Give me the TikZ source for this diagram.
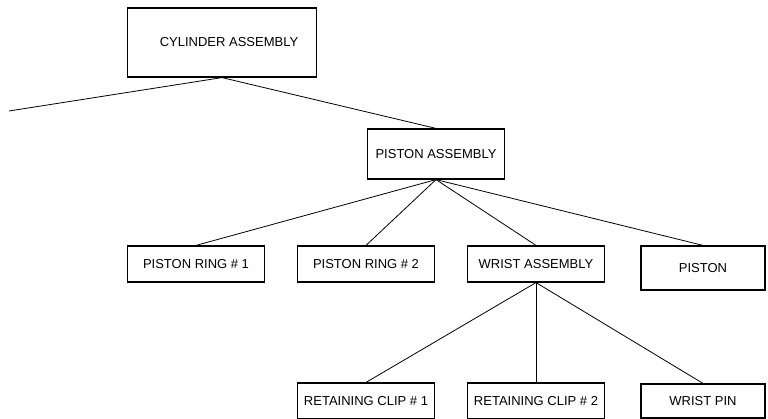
\documentclass[tikz,border=0pt]{standalone}
\usepackage{fontspec}
\setmainfont{Liberation Sans}
\usetikzlibrary{positioning}
\tikzset{
x=1pt, y=-1pt, % one unit per pixel, y runs down the page
node distance=170pt, % spacing between parts of the same row
part/.style={draw, line width=1.2pt, rectangle, minimum width=137pt, minimum height=36pt, inner sep=0pt, font=\fontsize{13}{15}\selectfont}, % sets the look of every box
link/.style={line width=0.8pt}, % lines from a part to its sub-parts
}

\begin{document}
\begin{tikzpicture}
    \useasboundingbox (0,0) rectangle (768,419);

    \node[part, minimum width=189pt, minimum height=69pt] (cyl) at (222,42.5) {\hspace*{14pt}CYLINDER ASSEMBLY};
    \coordinate (rest) at (9,111);
    \node[part, minimum height=50pt] (pa) at (436,154) {PISTON ASSEMBLY};

    \node[part] (pr1) at (196,264) {PISTON RING \# 1};
    \node[part, right of=pr1] (pr2) {PISTON RING \# 2};
    \node[part, right of=pr2] (wa) {WRIST ASSEMBLY};
    \node[part, right of=wa, xshift=-3pt, yshift=-4pt, minimum width=124pt, minimum height=44pt] (pis) {PISTON};

    \node[part, below of=pr2, node distance=137pt] (rc1) {RETAINING CLIP \# 1};
    \node[part, below of=wa, node distance=137pt] (rc2) {RETAINING CLIP \# 2};
    \node[part, below of=pis, node distance=133pt, minimum width=124pt, minimum height=34pt] (wp) {WRIST PIN};

    \draw[link] (rest) -- (cyl.south) -- (pa.north);
    \foreach \sub in {pr1, pr2, wa, pis}
        \draw[link] (pa.south) -- (\sub.north);
    \foreach \sub in {rc1, rc2, wp}
        \draw[link] (wa.south) -- (\sub.north);

\end{tikzpicture}
\end{document}
